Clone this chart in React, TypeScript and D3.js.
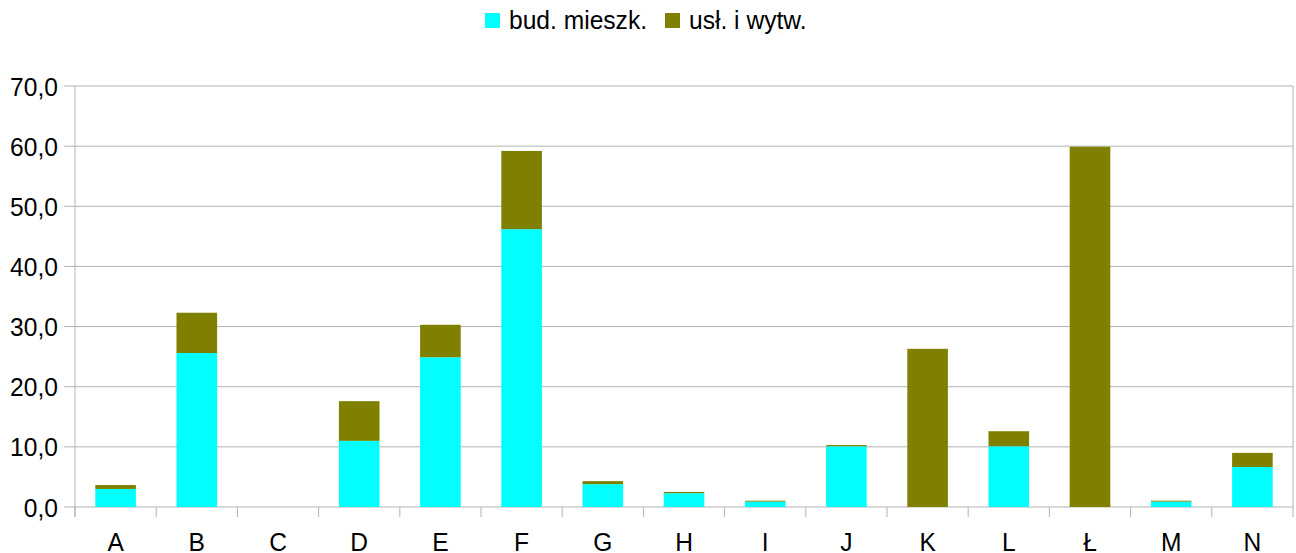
import React from "react";
import * as d3 from "d3";

const categories = ["A", "B", "C", "D", "E", "F", "G", "H", "I", "J", "K", "L", "Ł", "M", "N"];
const budMieszk = [3.0, 25.6, 0, 11.0, 24.9, 46.2, 3.8, 2.3, 0.9, 10.1, 0, 10.1, 0, 0.9, 6.65];
const uslWytw = [0.65, 6.7, 0, 6.6, 5.4, 13.0, 0.5, 0.2, 0.15, 0.2, 26.3, 2.5, 59.9, 0.15, 2.35];
const seriesNames = ["bud. mieszk.", "usł. i wytw."];
const seriesColors = ["#00ffff", "#808000"];
const yTicks = [0, 10, 20, 30, 40, 50, 60, 70];

const W = 1296;
const H = 553;
const M = { left: 75, right: 1293, top: 86, bottom: 507 };
const FONT = "'Liberation Sans', Arial, sans-serif";
const GRID = "#b3b3b3";
const FS = 24.6;
const SY = 1.08;

export default function App() {
  const x = d3.scaleBand<string>().domain(categories).range([M.left, M.right]).padding(0);
  const y = d3.scaleLinear().domain([0, 70]).range([M.bottom, M.top]);
  const rows = categories.map((c, i) => ({ cat: c, s0: budMieszk[i], s1: uslWytw[i] }));
  const stacked = d3.stack<any>().keys(["s0", "s1"])(rows);
  const bw = x.bandwidth() * 0.5;
  const fmt = (v: number) => v.toFixed(1).replace(".", ",");

  return (
    <svg width={W} height={H} style={{ position: "absolute", left: 0, top: 0, background: "#fff" }} fontFamily={FONT}>
      <rect x={0} y={0} width={W} height={H} fill="#fff" />
      {yTicks.map((t) => (
        <line key={"g" + t} x1={M.left - 11} x2={M.right} y1={y(t)} y2={y(t)} stroke={GRID} strokeWidth={1} />
      ))}
      <line x1={M.left} x2={M.left} y1={M.top} y2={M.bottom + 10} stroke={GRID} />
      <line x1={M.right} x2={M.right} y1={M.top} y2={M.bottom + 10} stroke={GRID} />
      {categories.map((c) => (
        <line key={"t" + c} x1={x(c)!} x2={x(c)!} y1={M.bottom} y2={M.bottom + 10} stroke={GRID} />
      ))}
      {stacked.map((s, si) => (
        <g key={"s" + si} fill={seriesColors[si]}>
          {s.map((d: any, i: number) => {
            const h = y(d[0]) - y(d[1]);
            if (h <= 0) return null;
            return (
              <rect key={i} x={x(categories[i])! + (x.bandwidth() - bw) / 2} y={y(d[1])} width={bw} height={h} />
            );
          })}
        </g>
      ))}
      {yTicks.map((t) => (
        <text key={"yl" + t} transform={`translate(58,${y(t) + 9.5}) scale(1,${SY})`} textAnchor="end" fontSize={FS} fill="#000">
          {fmt(t)}
        </text>
      ))}
      {categories.map((c) => (
        <text key={"xl" + c} transform={`translate(${x(c)! + x.bandwidth() / 2},550.5) scale(1,${SY})`} textAnchor="middle" fontSize={FS} fill="#000">
          {c}
        </text>
      ))}
      <g>
        <rect x={485} y={13} width={15} height={15} fill={seriesColors[0]} />
        <text transform={`translate(509,28.5) scale(1,${SY})`} fontSize={FS} fill="#000">{seriesNames[0]}</text>
        <rect x={665} y={13} width={15} height={15} fill={seriesColors[1]} />
        <text transform={`translate(689,28.5) scale(1,${SY})`} fontSize={FS} fill="#000">{seriesNames[1]}</text>
      </g>
    </svg>
  );
}
